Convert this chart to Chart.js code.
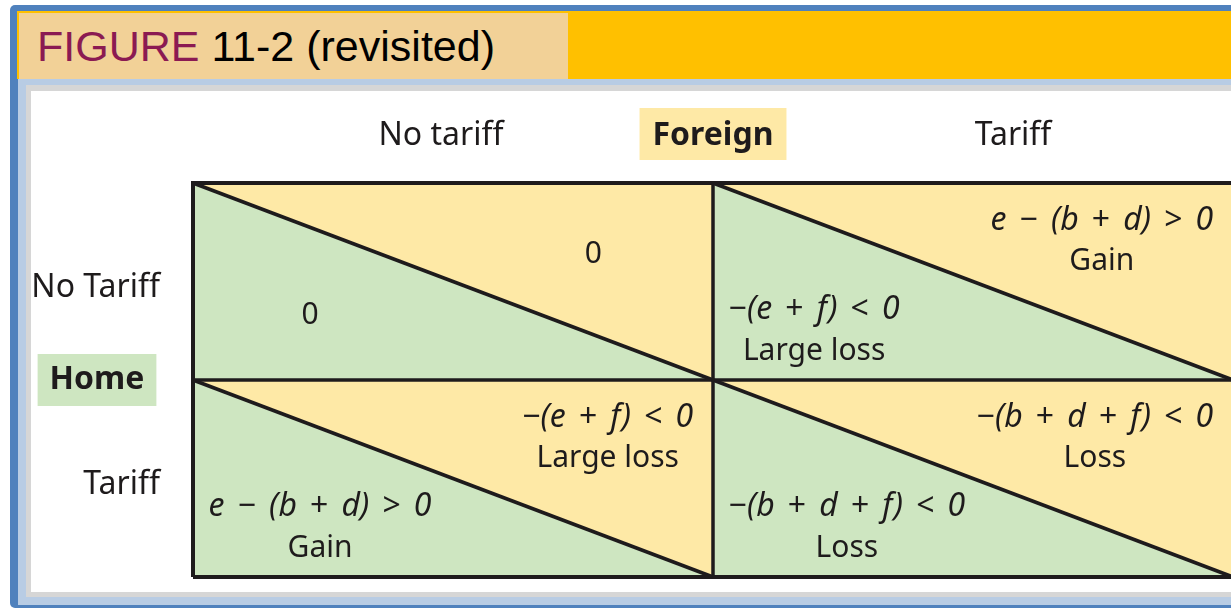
<!DOCTYPE html>
<html>
<head>
<meta charset="utf-8">
<script src="https://cdn.jsdelivr.net/npm/chart.js@4.4.0/dist/chart.umd.min.js"></script>
<style>
  body { margin: 0; overflow: hidden; background: #fff; width: 1231px; height: 608px; position: relative; }
  .box { position: absolute; }
  #title { font-family: "Liberation Sans", Arial, sans-serif; font-size: 43px; color: #000; line-height: 66px; padding-left: 18px; box-sizing: border-box; white-space: nowrap; }
  #title span { color: #8b1a52; }
</style>
</head>
<body>
<div class="box" style="left:10px;top:5px;width:1260px;height:603px;background:#4f81bd;border-radius:5px;"></div>
<div class="box" style="left:18px;top:79px;width:1250px;height:526px;background:#b8cce4;"></div>
<div class="box" style="left:26px;top:85px;width:1240px;height:512px;background:#d6d6d6;"></div>
<div class="box" style="left:31px;top:91px;width:1230px;height:501px;background:#fff;"></div>
<div class="box" style="left:568px;top:11px;width:700px;height:68px;background:#ffc000;"></div>
<div class="box" id="title" style="left:17px;top:11px;width:551px;height:68px;background:#f2d197;border-left:2px solid #ffc000;border-top:2px solid #ffc000;">
  <span>FIGURE</span> 11-2 (revisited)
</div>
<canvas id="myChart" width="1219" height="500" style="position:absolute;left:31px;top:92px;"></canvas>
<script>
// payoff matrix: rows = Home's choice, columns = Foreign's choice
const colLabels = ['No tariff', 'Tariff'];
const rowLabels = ['No Tariff', 'Tariff'];
const playerLabels = ['Home', 'Foreign'];

const homePayoffs = [
    ['0', '−(e + f) < 0'],
    ['e − (b + d) > 0', '−(b + d + f) < 0']
];
const homeOutcomes = [
    ['', 'Large loss'],
    ['Gain', 'Loss']
];
const foreignPayoffs = [
    ['0', 'e − (b + d) > 0'],
    ['−(e + f) < 0', '−(b + d + f) < 0']
];
const foreignOutcomes = [
    ['', 'Gain'],
    ['Large loss', 'Loss']
];

const GREEN = '#cee6c1';
const YELLOW = '#fee9a6';
const INK = '#1e1b1c';
const FONT = '"Noto Sans", "Open Sans", sans-serif';

// build datasets: two triangles per cell, then diagonals and grid lines
function buildDatasets() {
    var sets = [];
    var nRows = rowLabels.length;
    for (var r = 0; r < nRows; r++) {
        for (var c = 0; c < colLabels.length; c++) {
            var yTop = nRows - r;
            var yBot = yTop - 1;
            var diag = function () { return [{x: c, y: yTop}, {x: c + 1, y: yBot}]; };
            sets.push({data: diag(), fill: {value: yBot}, backgroundColor: GREEN, borderColor: 'rgba(0,0,0,0)', borderWidth: 0, pointRadius: 0, order: 3});
            sets.push({data: diag(), fill: {value: yTop}, backgroundColor: YELLOW, borderColor: 'rgba(0,0,0,0)', borderWidth: 0, pointRadius: 0, order: 3});
            sets.push({data: diag(), fill: false, borderColor: INK, borderWidth: 3.5, pointRadius: 0, order: 1, clip: false});
        }
    }
    sets.push({data: [{x: 0, y: 0}, {x: 0, y: 2}, {x: 2, y: 2}, {x: 2, y: 0}, {x: 0, y: 0}], fill: false, borderColor: INK, borderWidth: 4, pointRadius: 0, order: 0, clip: false});
    sets.push({data: [{x: 1, y: 0}, {x: 1, y: 2}], fill: false, borderColor: INK, borderWidth: 3.5, pointRadius: 0, order: 0, clip: false});
    sets.push({data: [{x: 0, y: 1}, {x: 2, y: 1}], fill: false, borderColor: INK, borderWidth: 3.5, pointRadius: 0, order: 0, clip: false});
    return sets;
}

// draws text; in formulas the operators stay upright, the rest is italic
function drawFormula(ctx, str, x, y, align, size, isMath) {
    var words = str.split(' ');
    var gap = isMath ? size * 0.41 : size * 0.26;
    var runs = [];
    var total = 0;
    words.forEach(function (w, wi) {
        var parts = isMath ? w.match(/[−+<>]+|[^−+<>]+/g) : [w];
        parts.forEach(function (p) {
            var font = (isMath && !/[−+<>]/.test(p) ? 'italic ' : '') + size + 'px ' + FONT;
            ctx.font = font;
            runs.push({text: p, font: font, x: total});
            total += ctx.measureText(p).width;
        });
        if (wi < words.length - 1) total += gap;
    });
    var start = align === 'right' ? x - total : (align === 'center' ? x - total / 2 : x);
    ctx.textAlign = 'left';
    ctx.textBaseline = 'middle';
    runs.forEach(function (run) {
        ctx.font = run.font;
        ctx.fillText(run.text, start + run.x, y);
    });
    return start + total / 2;
}

const labelPlugin = {
    id: 'matrixLabels',
    afterDraw: function (chart) {
        var ctx = chart.ctx;
        var xs = chart.scales.x, ys = chart.scales.y;
        var area = chart.chartArea;
        ctx.save();
        ctx.fillStyle = INK;

        // column headers
        var headY = area.top - 47;
        var colPos = [0.477, 1.577];
        ctx.font = '32px ' + FONT;
        ctx.textAlign = 'center';
        ctx.textBaseline = 'middle';
        colLabels.forEach(function (lab, i) {
            ctx.fillText(lab, xs.getPixelForValue(colPos[i]), headY);
        });

        // player labels
        ctx.font = 'bold 32px ' + FONT;
        var fx = xs.getPixelForValue(1);
        var fw = ctx.measureText(playerLabels[1]).width;
        ctx.fillStyle = YELLOW;
        ctx.fillRect(fx - fw / 2 - 13, headY - 28, fw + 26, 52);
        var hy = ys.getPixelForValue(1);
        var hx = 66;
        var hw = ctx.measureText(playerLabels[0]).width;
        ctx.fillStyle = GREEN;
        ctx.fillRect(hx - hw / 2 - 12, hy - 26, hw + 24, 52);
        ctx.fillStyle = INK;
        ctx.fillText(playerLabels[1], fx, headY);
        ctx.fillText(playerLabels[0], hx, hy);

        // row headers
        ctx.font = '32px ' + FONT;
        ctx.textAlign = 'right';
        rowLabels.forEach(function (lab, r) {
            var yTop = rowLabels.length - r;
            ctx.fillText(lab, area.left - 33, ys.getPixelForValue(yTop - 0.53));
        });

        // payoffs: Home lower-left (green), Foreign upper-right (yellow)
        var fs = 30, ms = 32;
        for (var r = 0; r < rowLabels.length; r++) {
            for (var c = 0; c < colLabels.length; c++) {
                var yTop = rowLabels.length - r;
                var px = function (f) { return xs.getPixelForValue(c + f); };
                var py = function (f) { return ys.getPixelForValue(yTop - f); };
                if (foreignOutcomes[r][c]) {
                    var mid = drawFormula(ctx, foreignPayoffs[r][c], px(0.962), py(0.19), 'right', ms, true);
                    drawFormula(ctx, foreignOutcomes[r][c], mid, py(0.40), 'center', fs, false);
                } else {
                    drawFormula(ctx, foreignPayoffs[r][c], px(0.77), py(0.365), 'center', fs, false);
                }
                if (homeOutcomes[r][c]) {
                    var mid2 = drawFormula(ctx, homePayoffs[r][c], px(0.03), py(0.645), 'left', ms, true);
                    drawFormula(ctx, homeOutcomes[r][c], mid2, py(0.855), 'center', fs, false);
                } else {
                    drawFormula(ctx, homePayoffs[r][c], px(0.225), py(0.67), 'center', fs, false);
                }
            }
        }
        ctx.restore();
    }
};

var ctx = document.getElementById('myChart').getContext('2d');
var myChart = new Chart(ctx, {
    type: 'line',
    data: { datasets: buildDatasets() },
    plugins: [labelPlugin],
    options: {
        responsive: false,
        animation: false,
        events: [],
        layout: { padding: { left: 162, top: 91, right: 17, bottom: 15 } },
        scales: {
            x: { type: 'linear', min: 0, max: 2, display: false },
            y: { type: 'linear', min: 0, max: 2, display: false }
        },
        plugins: {
            legend: { display: false },
            tooltip: { enabled: false },
            filler: { drawTime: 'beforeDatasetsDraw' }
        }
    }
});
</script>
</body>
</html>
